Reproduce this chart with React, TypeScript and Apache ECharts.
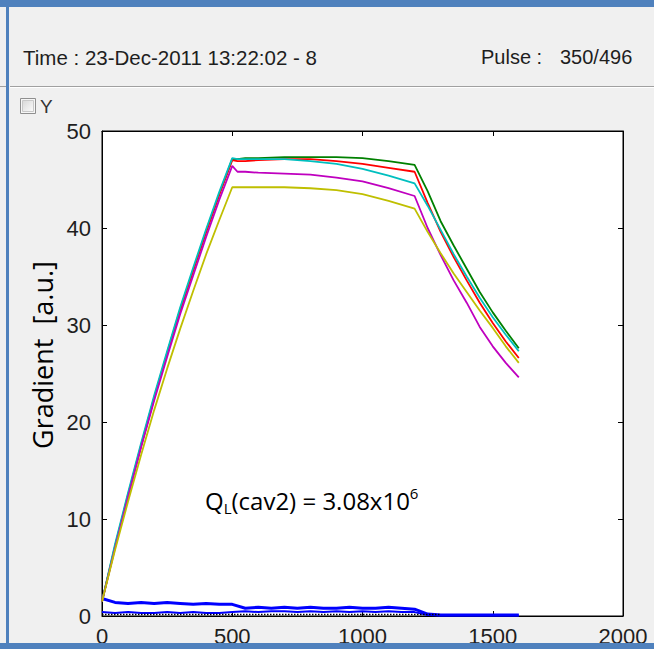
import React, { useEffect, useRef } from "react";
import * as echarts from "echarts";

// ---- data ----
const times = [0, 50, 100, 150, 200, 250, 300, 350, 400, 450, 500, 520, 550, 600, 700, 800, 900, 1000, 1100, 1200, 1250, 1300, 1350, 1400, 1450, 1500, 1550, 1600];
const greenVals = [1.5, 7.2, 12.5, 17.6, 22.5, 27.1, 31.6, 35.7, 39.7, 43.5, 47.1, 47.1, 47.2, 47.2, 47.3, 47.3, 47.3, 47.2, 46.9, 46.5, 43.8, 40.7, 38.2, 35.8, 33.4, 31.3, 29.4, 27.6];
const redVals = [1.5, 7.1, 12.4, 17.5, 22.4, 27.0, 31.5, 35.6, 39.6, 43.4, 47.0, 46.9, 46.9, 47.0, 47.1, 47.1, 46.9, 46.6, 46.2, 45.8, 42.6, 39.6, 37.0, 34.6, 32.3, 30.2, 28.3, 26.6];
const cyanVals = [1.5, 7.4, 12.7, 17.8, 22.7, 27.3, 31.8, 35.9, 39.9, 43.7, 47.2, 47.1, 47.1, 47.1, 47.1, 46.9, 46.6, 46.1, 45.4, 44.6, 42.3, 39.8, 37.3, 35.0, 32.8, 30.8, 29.0, 27.3];
const magentaVals = [1.5, 7.0, 12.3, 17.4, 22.2, 26.7, 31.1, 35.1, 39.1, 42.9, 46.4, 45.8, 45.8, 45.7, 45.6, 45.5, 45.2, 44.8, 44.1, 43.3, 40.0, 37.2, 34.6, 32.3, 29.8, 27.8, 26.1, 24.6];
const yellowVals = [1.5, 6.8, 11.8, 16.6, 21.2, 25.5, 29.6, 33.5, 37.3, 40.8, 44.2, 44.2, 44.2, 44.2, 44.2, 44.1, 43.9, 43.5, 42.8, 42.0, 39.6, 37.4, 35.3, 33.4, 31.5, 29.7, 27.8, 26.1];

const blueTimes = [0, 50, 100, 150, 200, 250, 300, 350, 400, 450, 500, 550, 600, 650, 700, 750, 800, 850, 900, 950, 1000, 1050, 1100, 1150, 1200, 1250, 1300, 1350, 1400, 1450, 1500, 1550, 1600];
const blueUpper = [1.8, 1.4, 1.3, 1.4, 1.3, 1.4, 1.3, 1.2, 1.3, 1.2, 1.2, 0.8, 0.9, 0.8, 0.9, 0.8, 0.9, 0.8, 0.8, 0.9, 0.8, 0.8, 0.9, 0.8, 0.7, 0.2, 0.1, 0.1, 0.1, 0.1, 0.1, 0.1, 0.1];
const blueLower = [0.4, 0.3, 0.4, 0.3, 0.3, 0.4, 0.3, 0.4, 0.3, 0.3, 0.4, 0.5, 0.4, 0.5, 0.5, 0.4, 0.5, 0.4, 0.5, 0.4, 0.5, 0.4, 0.5, 0.4, 0.4, 0.1, 0.05, 0.05, 0.05, 0.05, 0.05, 0.05, 0.05];
const blackTimes = [0, 1300];
const blackVals = [0.15, 0.15];

const xTicks = { min: 0, max: 2000, interval: 500 };
const yTicks = { min: 0, max: 50, interval: 10 };

const timeLabel = "Time : 23-Dec-2011 13:22:02 - 8";
const pulseLabel = "Pulse :";
const pulseValue = "350/496";
const yTitle = "Gradient  [a.u.]";

const zip = (xs: number[], ys: number[]) => xs.map((x, i) => [x, ys[i]]);

const SANS = "'Liberation Sans', Arial, sans-serif";
const CAL = "'Open Sans', 'Noto Sans', sans-serif";
const FRAME = "#4f81bd";

export default function App() {
  const ref = useRef<HTMLDivElement>(null);
  useEffect(() => {
    if (!ref.current) return;
    const chart = echarts.init(ref.current, null, { renderer: "svg" });
    const line = (name: string, xs: number[], ys: number[], color: string, width: number, type: any = "solid") => ({
      name,
      type: "line",
      xAxisIndex: 0,
      yAxisIndex: 0,
      data: zip(xs, ys),
      showSymbol: false,
      symbol: "none",
      lineStyle: { color, width, type },
      itemStyle: { color },
      silent: true,
    });
    const axisCommon = {
      axisLine: { show: true, onZero: false, lineStyle: { color: "#000", width: 1 } },
      axisTick: { show: true, inside: true, length: 5, lineStyle: { color: "#000" } },
      splitLine: { show: false },
    };
    const plain = (v: number) => String(v);
    chart.setOption({
      animation: false,
      backgroundColor: "#f0f0f0",
      grid: {
        left: 102,
        top: 131,
        width: 521,
        height: 485,
        show: true,
        backgroundColor: "#ffffff",
        borderColor: "#000",
        borderWidth: 1,
      },
      xAxis: [
        {
          type: "value",
          ...xTicks,
          position: "bottom",
          ...axisCommon,
          axisLabel: { fontSize: 22, fontFamily: SANS, color: "#1e1e1e", margin: 9, formatter: plain },
        },
        {
          type: "value",
          ...xTicks,
          position: "top",
          ...axisCommon,
          axisLabel: { show: false },
        },
      ],
      yAxis: [
        {
          type: "value",
          ...yTicks,
          position: "left",
          ...axisCommon,
          axisLabel: { fontSize: 22, fontFamily: SANS, color: "#1e1e1e", margin: 11, formatter: plain },
        },
        {
          type: "value",
          ...yTicks,
          position: "right",
          ...axisCommon,
          axisLabel: { show: false },
        },
      ],
      series: [
        line("blue1", blueTimes, blueUpper, "#0000ff", 3),
        line("blue2", blueTimes, blueLower, "#0000ff", 2),
        line("green", times, greenVals, "#008000", 1.8),
        line("red", times, redVals, "#ff0000", 1.8),
        line("cyan", times, cyanVals, "#00bfbf", 1.8),
        line("magenta", times, magentaVals, "#bf00bf", 1.8),
        line("yellow", times, yellowVals, "#bfbf00", 1.8),
        line("black", blackTimes, blackVals, "#000000", 1.5, "dotted"),
      ],
      graphic: [
        // frame bars
        { type: "rect", z: 100, shape: { x: 0, y: 0, width: 654, height: 7 }, style: { fill: FRAME } },
        { type: "rect", z: 100, shape: { x: 0, y: 643, width: 654, height: 6 }, style: { fill: FRAME } },
        { type: "rect", z: 100, shape: { x: 6, y: 0, width: 3, height: 649 }, style: { fill: FRAME } },
        // separator
        { type: "rect", z: 90, shape: { x: 10, y: 86, width: 644, height: 1 }, style: { fill: "#a0a0a0" } },
        { type: "rect", z: 90, shape: { x: 10, y: 87, width: 644, height: 1 }, style: { fill: "#ffffff" } },
        { type: "rect", z: 90, shape: { x: 0, y: 86, width: 6, height: 1 }, style: { fill: "#a0a0a0" } },
        // header texts
        {
          type: "text",
          z: 90,
          x: 23,
          y: 57,
          style: { text: timeLabel, fontSize: 20.5, fontFamily: SANS, fill: "#1e1e1e", align: "left", verticalAlign: "middle", textAlign: "left", textVerticalAlign: "middle" },
        },
        {
          type: "text",
          z: 90,
          x: 481,
          y: 57,
          style: { text: pulseLabel, fontSize: 20, fontFamily: SANS, fill: "#1e1e1e", align: "left", verticalAlign: "middle", textAlign: "left", textVerticalAlign: "middle" },
        },
        {
          type: "text",
          z: 90,
          x: 560,
          y: 57,
          style: { text: pulseValue, fontSize: 20, fontFamily: SANS, fill: "#1e1e1e", align: "left", verticalAlign: "middle", textAlign: "left", textVerticalAlign: "middle" },
        },
        // checkbox
        { type: "rect", z: 90, shape: { x: 20.5, y: 98.5, width: 15, height: 15 }, style: { fill: "#f6f6f6", stroke: "#8f8f8f", lineWidth: 1 } },
        {
          type: "rect",
          z: 91,
          shape: { x: 22.5, y: 100.5, width: 11, height: 11 },
          style: {
            fill: new echarts.graphic.LinearGradient(0, 0, 1, 1, [
              { offset: 0, color: "#d8d8d8" },
              { offset: 1, color: "#fbfbfb" },
            ]),
            stroke: "#c8c8c8",
            lineWidth: 1,
          },
        },
        {
          type: "text",
          z: 90,
          x: 40,
          y: 106,
          style: { text: "Y", fontSize: 19, fontFamily: SANS, fill: "#333333", align: "left", verticalAlign: "middle", textAlign: "left", textVerticalAlign: "middle" },
        },
        // y axis title
        {
          type: "text",
          z: 90,
          x: 42,
          y: 355,
          rotation: Math.PI / 2,
          style: { text: yTitle, fontSize: 27, fontFamily: CAL, fill: "#000", align: "center", verticalAlign: "middle", textAlign: "center", textVerticalAlign: "middle" },
        },
        // annotation
        {
          type: "text",
          z: 90,
          x: 205,
          y: 500,
          style: {
            text: "{q|Q}{sub|L}{q|(cav2) = 3.08x10}{sup|6}",
            align: "left",
            verticalAlign: "middle",
            textAlign: "left",
            textVerticalAlign: "middle",
            fill: "#000",
            rich: {
              q: { fontSize: 24, fontFamily: CAL, fill: "#000", color: "#000", lineHeight: 30 },
              sub: { fontSize: 15, fontFamily: CAL, fill: "#000", color: "#000", lineHeight: 12, verticalAlign: "bottom" },
              sup: { fontSize: 15, fontFamily: CAL, fill: "#000", color: "#000", lineHeight: 14, verticalAlign: "top" },
            },
          },
        },
      ],
    });
    return () => chart.dispose();
  }, []);
  return (
    <div style={{ position: "fixed", left: 0, top: 0, width: 654, height: 649, background: "#f0f0f0" }}>
      <div ref={ref} style={{ width: 654, height: 649 }} />
    </div>
  );
}
